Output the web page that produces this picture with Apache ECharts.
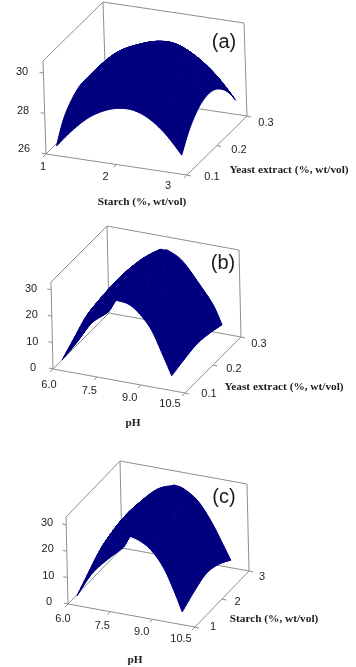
<!DOCTYPE html>
<html><head><meta charset="utf-8">
<style>html,body{margin:0;padding:0;background:#fff}#c{width:356px;height:667px}</style>
<script src="https://cdn.jsdelivr.net/npm/echarts@6/dist/echarts.min.js"></script>
</head><body><div id="c"></div>
<script>
// ---- Panel (a): values
const aStarch = [1.11,1.33,1.56,1.78,2.0,2.22,2.44,2.67,2.89];
const aYeast = [0.11,0.13,0.15,0.175,0.2,0.225,0.25,0.27,0.29];
const aResponse = [
 [26.31,27.16,27.90,28.37,28.63,28.65,28.35,27.70,26.78],
 [27.10,27.95,28.69,29.13,29.35,29.34,29.01,28.36,27.44],
 [27.59,28.44,29.18,29.59,29.85,29.86,29.50,28.85,27.93],
 [27.95,28.80,29.54,29.93,30.17,30.16,29.89,29.24,28.32],
 [28.12,28.97,29.71,30.10,30.33,30.32,30.03,29.38,28.46],
 [27.98,28.83,29.57,29.96,30.20,30.19,29.92,29.27,28.35],
 [27.64,28.49,29.23,29.64,29.90,29.91,29.55,28.90,27.98],
 [27.17,28.02,28.76,29.20,29.42,29.41,29.08,28.43,27.51],
 [26.40,27.25,27.99,28.46,28.72,28.74,28.44,27.79,26.87]];
const aXTicks = ['1','2','3'], aYTicks = ['0.1','0.2','0.3'], aZTicks = ['26','28','30'];
// ---- Panel (b)
const bPH = [6.22,6.76,7.27,7.85,8.03,8.2,8.66,9.24,9.67,9.96];
const bYeast = [0.11,0.155,0.2,0.245,0.29];
const bResponse = [
 [2.8,10.8,19.0,24.4,28.8,29.2,28.0,21.5,11.7,4.4],
 [6.6,15.2,22.4,27.7,30.7,31.4,29.7,22.8,12.9,5.8],
 [10.2,18.2,24.8,29.7,32.0,32.3,30.0,23.1,13.9,6.8],
 [10.9,18.8,25.1,29.7,31.4,31.4,28.7,21.1,13.2,6.1],
 [9.9,17.8,24.1,28.7,29.0,29.0,26.1,18.2,11.6,4.6]];
const bXTicks = ['6.0','7.5','9.0','10.5'], bYTicks = ['0.1','0.2','0.3'], bZTicks = ['0','10','20','30'];
// ---- Panel (c)
const cPH = [6.23,6.79,7.4,7.94,8.05,8.34,8.84,9.31,9.67,9.96];
const cStarch = [1.1,1.55,2.0,2.45,2.9];
const cResponse = [
 [2.5,12.1,19.0,24.4,28.2,28.4,25.6,19.5,11.4,3.6],
 [6.9,16.5,22.8,27.7,30.7,30.7,28.1,21.8,13.9,6.6],
 [10.9,19.8,25.7,30.0,32.0,31.7,29.0,22.8,15.2,8.6],
 [12.5,20.8,26.4,29.7,31.0,30.7,27.7,20.8,13.5,7.3],
 [12.5,20.0,26.1,28.5,28.7,28.1,24.4,17.3,10.1,4.1]];
const cXTicks = ['6.0','7.5','9.0','10.5'], cYTicks = ['1','2','3'], cZTicks = ['0','10','20','30'];

// ---- Layout of each panel's oblique view
const panels = [
 {tag:'(a)', tagAt:[224,42], xs:aStarch, ys:aYeast, zs:aResponse,
  xR:[1,3], yR:[0.1,0.3], zR:[26,30.6],
  O:[46,154], X:[141,21], Y:[60,-59], Z:[-3,-93],
  xT:aXTicks, yT:aYTicks, zT:aZTicks,
  xL:[[43,167],[168,186]], yL:[[212,177],[266,123]], zL:[[24,149],[22,72]],
  xName:'Starch (%, wt/vol)', xAt:[142,202], yName:'Yeast extract (%, wt/vol)', yAt:[289,170]},
 {tag:'(b)', tagAt:[223,263], xs:bPH, ys:bYeast, zs:bResponse,
  xR:[6,10.5], yR:[0.1,0.3], zR:[0,33],
  O:[53,369], X:[132,24], Y:[56,-56], Z:[-2,-87],
  xT:bXTicks, yT:bYTicks, zT:bZTicks,
  xL:[[49,385],[170,404]], yL:[[209,394],[259,344]], zL:[[33,368],[31,289]],
  xName:'pH', xAt:[133,423], yName:'Yeast extract (%, wt/vol)', yAt:[284,387]},
 {tag:'(c)', tagAt:[224,497], xs:cPH, ys:cStarch, zs:cResponse,
  xR:[6,10.5], yR:[1,3], zR:[0,33],
  O:[68,604], X:[127,23], Y:[54,-56], Z:[-2,-87],
  xT:cXTicks, yT:cYTicks, zT:cZTicks,
  xL:[[63,619],[181,639]], yL:[[213,627],[262,577]], zL:[[49,602],[47,523]],
  xName:'pH', xAt:[135,660], yName:'Starch (%, wt/vol)', yAt:[274,619]}
];

const LINE = '#8e8e8e', NAVY = '#00007f', INK = '#1c1c1c', STEPS = 5;
const SANS = '"Liberation Sans", Arial, sans-serif', SERIF = '"Liberation Serif", "Times New Roman", serif';
const frac = (v, r) => (v - r[0]) / (r[1] - r[0]);
function proj(p, x, y, z) {           // data value -> page position
  const u = frac(x, p.xR), v = frac(y, p.yR), w = frac(z, p.zR);
  return [p.O[0]+u*p.X[0]+v*p.Y[0]+w*p.Z[0], p.O[1]+u*p.X[1]+v*p.Y[1]+w*p.Z[1]];
}
function lerpAt(pair, i, n) {
  const t = n > 1 ? i / (n - 1) : 0;
  return [pair[0][0] + t*(pair[1][0]-pair[0][0]), pair[0][1] + t*(pair[1][1]-pair[0][1])];
}
function frameSegs(p) {
  const [x0,x1]=p.xR,[y0,y1]=p.yR,[z0,z1]=p.zR, segs=[];
  const E=[[[x0,y0,z0],[x1,y0,z0]],[[x1,y0,z0],[x1,y1,z0]],[[x0,y0,z0],[x0,y1,z0]],[[x0,y1,z0],[x1,y1,z0]],
    [[x0,y1,z0],[x0,y1,z1]],[[x0,y0,z0],[x0,y0,z1]],[[x1,y1,z0],[x1,y1,z1]],[[x0,y0,z1],[x0,y1,z1]],[[x0,y1,z1],[x1,y1,z1]]];
  E.forEach(e=>segs.push([proj(p,...e[0]),proj(p,...e[1])]));
  p.xT.forEach(t=>{const a=proj(p,+t,y0,z0);segs.push([a,[a[0]-3,a[1]+3]]);});
  p.yT.forEach(t=>{const a=proj(p,x1,+t,z0);segs.push([a,[a[0]+4,a[1]+1]]);});
  p.zT.forEach(t=>{const a=proj(p,x0,y0,+t);segs.push([a,[a[0]-4,a[1]-1]]);});
  return segs;
}
// Drawing-time spline through the table's knots (like a line series' smooth option)
function spline(arr, s) {
  const n=arr.length, i=Math.min(Math.floor(s),n-2), t=s-i;
  const a=arr[Math.max(i-1,0)], b=arr[i], c=arr[i+1], d=arr[Math.min(i+2,n-1)];
  return 0.5*((2*b)+(-a+c)*t+(2*a-5*b+4*c-d)*t*t+(-a+3*b-3*c+d)*t*t*t);
}
function quads(p) {
  const nx=(p.xs.length-1)*STEPS, ny=(p.ys.length-1)*STEPS, P=[];
  for(let j=0;j<=ny;j++){
    const sy=j/STEPS, y=spline(p.ys,sy), row=p.xs.map((_,i)=>spline(p.zs.map(r=>r[i]),sy)), line=[];
    for(let i=0;i<=nx;i++){const sx=i/STEPS;line.push(proj(p,spline(p.xs,sx),y,spline(row,sx)));}
    P.push(line);
  }
  const q=[];
  for(let j=0;j<ny;j++)for(let i=0;i<nx;i++)q.push([P[j][i],P[j][i+1],P[j+1][i+1],P[j+1][i]]);
  return q;
}
function texts(p) {
  const t=[];
  p.xT.forEach((s,i)=>t.push({s,at:lerpAt(p.xL,i,p.xT.length),font:'11px '+SANS}));
  p.yT.forEach((s,i)=>t.push({s,at:lerpAt(p.yL,i,p.yT.length),font:'11px '+SANS}));
  p.zT.forEach((s,i)=>t.push({s,at:lerpAt(p.zL,i,p.zT.length),font:'11px '+SANS}));
  t.push({s:p.xName,at:p.xAt,font:'bold 11.3px '+SERIF});
  t.push({s:p.yName,at:p.yAt,font:'bold 11.3px '+SERIF});
  t.push({s:p.tag,at:p.tagAt,font:'20px '+SANS});
  return t;
}
const series=[];
panels.forEach(p=>{
  const segs=frameSegs(p), qs=quads(p), ts=texts(p);
  series.push({type:'custom',coordinateSystem:'cartesian2d',silent:true,clip:false,z:1,
    data:segs.map(s=>[s[0][0],s[0][1],s[1][0],s[1][1]]),
    encode:{x:[0,2],y:[1,3]},
    renderItem:(par,api)=>{
      const a=api.coord([api.value(0),api.value(1)]),b=api.coord([api.value(2),api.value(3)]);
      return {type:'line',shape:{x1:a[0],y1:a[1],x2:b[0],y2:b[1]},style:{stroke:LINE,lineWidth:1,fill:null}};
    }});
  series.push({type:'custom',coordinateSystem:'cartesian2d',silent:true,clip:false,z:2,
    data:qs.map(q=>q.flat()),
    encode:{x:[0,2,4,6],y:[1,3,5,7]},
    renderItem:(par,api)=>{
      const pts=[0,2,4,6].map(k=>api.coord([api.value(k),api.value(k+1)]));
      return {type:'polygon',shape:{points:pts},style:{fill:NAVY,stroke:NAVY,lineWidth:1}};
    }});
  series.push({type:'custom',coordinateSystem:'cartesian2d',silent:true,clip:false,z:3,
    data:ts.map(t=>[t.at[0],t.at[1]]),
    encode:{x:0,y:1},
    renderItem:(par,api)=>{
      const a=api.coord([api.value(0),api.value(1)]),t=ts[par.dataIndex];
      return {type:'text',x:a[0],y:a[1],style:{text:t.s,font:t.font,fill:INK,align:'center',verticalAlign:'middle'}};
    }});
});
const chart=echarts.init(document.getElementById('c'),null,{renderer:'canvas'});
chart.setOption({animation:false,backgroundColor:'#fff',
  grid:{left:0,right:0,top:0,bottom:0},
  xAxis:{type:'value',min:0,max:356,show:false},
  yAxis:{type:'value',min:0,max:667,inverse:true,show:false},
  tooltip:{show:false},series});
</script></body></html>
